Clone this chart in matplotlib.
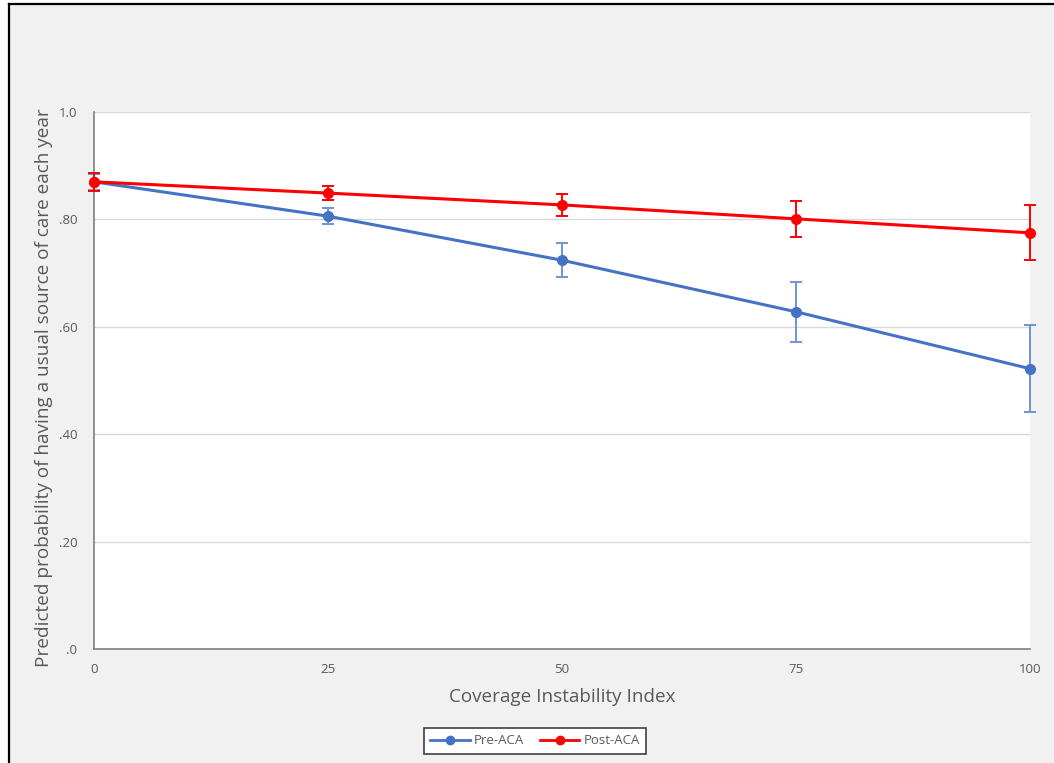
import matplotlib.pyplot as plt
from matplotlib.patches import Rectangle
from matplotlib.lines import Line2D

plt.rcParams['font.family'] = ['Open Sans', 'DejaVu Sans']

# coverage instability index and predicted probabilities
index = [0, 25, 50, 75, 100]
pre_aca = [0.870, 0.806, 0.724, 0.628, 0.522]
pre_lo = [0.855, 0.791, 0.693, 0.572, 0.441]
pre_hi = [0.885, 0.821, 0.756, 0.684, 0.603]
post_aca = [0.870, 0.849, 0.827, 0.801, 0.775]
post_lo = [0.853, 0.836, 0.806, 0.768, 0.725]
post_hi = [0.887, 0.862, 0.847, 0.835, 0.826]

y_ticks = [0.0, 0.2, 0.4, 0.6, 0.8, 1.0]
y_labels = [".0", ".20", ".40", ".60", ".80", "1.0"]

blue = "#4472C4"
red = "#FF0000"
grey_txt = "#595959"

fig = plt.figure(figsize=(10.54, 7.63), dpi=100, facecolor="white")

# grey panel with a black frame on the left and top
W, H = 1054, 763
fig.patches.append(Rectangle((9 / W, 0), 1, 1 - 5 / H, transform=fig.transFigure,
                             facecolor="#f1f1f1", edgecolor="none", zorder=-2))
fig.lines.append(Line2D([9 / W, 9 / W], [0, 1 - 4 / H], transform=fig.transFigure,
                        color="black", lw=1.6, zorder=-1))
fig.lines.append(Line2D([9 / W, 1], [1 - 4 / H, 1 - 4 / H], transform=fig.transFigure,
                        color="black", lw=1.6, zorder=-1))

ax = fig.add_axes([94 / W, 1 - 649 / H, (1030 - 94) / W, (649 - 112) / H])
ax.set_facecolor("white")

pre_err = [[m - l for m, l in zip(pre_aca, pre_lo)], [h - m for m, h in zip(pre_aca, pre_hi)]]
post_err = [[m - l for m, l in zip(post_aca, post_lo)], [h - m for m, h in zip(post_aca, post_hi)]]

ax.errorbar(index, pre_aca, yerr=pre_err, color=blue, lw=2.2, marker="o", ms=7,
            ecolor="#6f93d4", elinewidth=1.4, capsize=4, capthick=1.4, zorder=3, clip_on=False)
ax.errorbar(index, post_aca, yerr=post_err, color=red, lw=2.2, marker="o", ms=7,
            ecolor=red, elinewidth=1.4, capsize=4, capthick=1.4, zorder=4, clip_on=False)

ax.set_xlim(0, 100)
ax.set_ylim(0, 1.0)
ax.set_xticks(index)
ax.set_yticks(y_ticks)
ax.set_yticklabels(y_labels)
ax.tick_params(length=0, labelsize=9.5, colors=grey_txt)
ax.tick_params(axis="y", pad=12)
ax.tick_params(axis="x", pad=10)
ax.grid(axis="y", color="#d9d9d9", lw=1)
ax.set_axisbelow(True)
for side in ["top", "right"]:
    ax.spines[side].set_visible(False)
for side in ["left", "bottom"]:
    ax.spines[side].set_color("#7f7f7f")
    ax.spines[side].set_linewidth(1.2)

ax.set_xlabel("Coverage Instability Index", fontsize=13.6, color=grey_txt, labelpad=9)
ax.set_ylabel("Predicted probability of having a usual source of care each year",
              fontsize=13.7, color=grey_txt)
ax.yaxis.set_label_coords(-0.044, 0.487)

handles = [Line2D([], [], color=blue, lw=2, marker="o", ms=6),
           Line2D([], [], color=red, lw=2, marker="o", ms=6)]
leg = fig.legend(handles, ["Pre-ACA", "Post-ACA"], loc="center",
                 bbox_to_anchor=(535 / W, 1 - 741 / H), ncol=2,
                 fontsize=9.5, frameon=True, fancybox=False, handlelength=3,
                 columnspacing=1.2, handletextpad=0.3, borderpad=0.5, labelcolor=grey_txt,
                 framealpha=1)
leg.get_frame().set_edgecolor("#404040")
leg.get_frame().set_facecolor("white")
leg.get_frame().set_linewidth(1.2)

fig.savefig("out.png", dpi=100, facecolor=fig.get_facecolor())
